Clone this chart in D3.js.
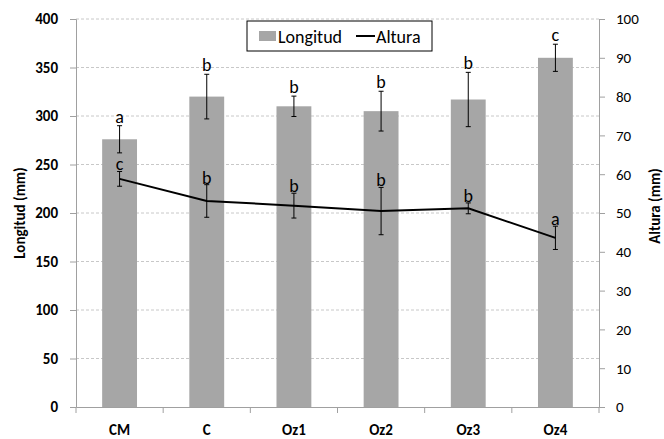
<!DOCTYPE html>
<html>
<head>
<meta charset="utf-8">
<script src="https://cdn.jsdelivr.net/npm/d3@7"></script>
<style>
  body { margin: 0; background: #fff; }
  #chart { width: 664px; height: 439px; }
  text { font-family: Carlito, Lato, "Liberation Sans", sans-serif; }
</style>
</head>
<body>
<div id="chart"></div>
<script>
const categories = ["CM", "C", "Oz1", "Oz2", "Oz3", "Oz4"];
const longitud = [276, 320, 310, 305, 317, 360];
const longitudErr = [14, 23, 10.5, 20.5, 28, 14];
const longitudLetters = ["a", "b", "b", "b", "b", "c"];
const altura = [58.8, 53.1, 51.9, 50.5, 51.2, 43.6];
const alturaErr = [1.9, 4.2, 3.2, 6.1, 1.4, 3];
const alturaLetters = ["c", "b", "b", "b", "b", "a"];
const leftTicks = [0, 50, 100, 150, 200, 250, 300, 350, 400];
const rightTicks = [0, 10, 20, 30, 40, 50, 60, 70, 80, 90, 100];

function draw() {
  const margin = { top: 19, right: 65, bottom: 32, left: 76 };
  const w = 664, h = 439;
  const innerW = w - margin.left - margin.right;
  const innerH = h - margin.top - margin.bottom;

  const svg = d3.select("#chart").append("svg")
    .attr("width", w).attr("height", h);

  const g = svg.append("g")
    .attr("transform", `translate(${margin.left},${margin.top})`);

  const x = d3.scaleBand().domain(categories).range([0, innerW]).paddingInner(0.6).paddingOuter(0.3);
  const xOuter = d3.scaleBand().domain(categories).range([0, innerW]);
  const yL = d3.scaleLinear().domain([0, 400]).range([innerH, 0]);
  const yR = d3.scaleLinear().domain([0, 100]).range([innerH, 0]);

  // grid
  g.append("g").selectAll("line")
    .data(leftTicks.filter(d => d > 0))
    .join("line")
    .attr("x1", 0).attr("x2", innerW)
    .attr("y1", d => yL(d)).attr("y2", d => yL(d))
    .attr("stroke", "#c8c8c8")
    .attr("stroke-dasharray", "3,2");

  // bars
  g.selectAll("rect.bar")
    .data(categories)
    .join("rect")
    .attr("class", "bar")
    .attr("x", d => x(d))
    .attr("y", (d, i) => yL(longitud[i]))
    .attr("width", x.bandwidth())
    .attr("height", (d, i) => innerH - yL(longitud[i]))
    .attr("fill", "#a6a6a6");

  const cx = d => xOuter(d) + xOuter.bandwidth() / 2;

  // error bars helper
  function errorBars(vals, errs, scale) {
    const eg = g.append("g").attr("stroke", "#000").attr("stroke-width", 1);
    categories.forEach((c, i) => {
      const y1 = scale(vals[i] + errs[i]), y2 = scale(vals[i] - errs[i]);
      eg.append("line").attr("x1", cx(c)).attr("x2", cx(c)).attr("y1", y1).attr("y2", y2);
      eg.append("line").attr("x1", cx(c) - 2.5).attr("x2", cx(c) + 2.5).attr("y1", y1).attr("y2", y1);
      eg.append("line").attr("x1", cx(c) - 2.5).attr("x2", cx(c) + 2.5).attr("y1", y2).attr("y2", y2);
    });
  }

  errorBars(longitud, longitudErr, yL);

  // line
  const line = d3.line()
    .x((d, i) => cx(categories[i]))
    .y(d => yR(d));
  g.append("path")
    .datum(altura)
    .attr("d", line)
    .attr("fill", "none")
    .attr("stroke", "#000")
    .attr("stroke-width", 2);

  errorBars(altura, alturaErr, yR);

  // letters
  g.selectAll("text.lL")
    .data(categories)
    .join("text")
    .attr("x", cx)
    .attr("y", (d, i) => yL(longitud[i] + longitudErr[i]) - 3)
    .attr("text-anchor", "middle")
    .style("font-size", "18px")
    .text((d, i) => longitudLetters[i]);

  g.selectAll("text.lA")
    .data(categories)
    .join("text")
    .attr("x", cx)
    .attr("y", (d, i) => yR(altura[i] + alturaErr[i]) - 1)
    .attr("text-anchor", "middle")
    .style("font-size", "18px")
    .text((d, i) => alturaLetters[i]);

  // axes
  const axL = g.append("g")
    .call(d3.axisLeft(yL).tickValues(leftTicks).tickSize(6).tickPadding(12));
  axL.selectAll("text").style("font-size", "15px").style("font-weight", "bold").attr("fill", "#000");

  const axR = g.append("g")
    .attr("transform", `translate(${innerW},0)`)
    .call(d3.axisRight(yR).tickValues(rightTicks).tickSize(6).tickPadding(11));
  axR.selectAll("text").style("font-size", "15px").attr("fill", "#000");

  const axB = g.append("g")
    .attr("transform", `translate(0,${innerH})`)
    .call(d3.axisBottom(xOuter).tickSize(0));
  axB.selectAll("text")
    .attr("y", 28).attr("dy", 0)
    .style("font-size", "15px").style("font-weight", "bold").attr("fill", "#000");
  axB.selectAll("line.bt")
    .data(d3.range(categories.length + 1))
    .join("line")
    .attr("class", "bt")
    .attr("x1", i => i * xOuter.step()).attr("x2", i => i * xOuter.step())
    .attr("y1", 0).attr("y2", 6)
    .attr("stroke", "#a0a0a0");

  [axL, axR, axB].forEach(a => {
    a.select(".domain").attr("stroke", "#a0a0a0");
    a.selectAll(".tick line").attr("stroke", "#a0a0a0");
  });

  // axis titles
  svg.append("text")
    .attr("transform", `translate(20,${margin.top + innerH / 2}) rotate(-90)`)
    .attr("text-anchor", "middle")
    .attr("dy", "0.35em")
    .style("font-size", "15px").style("font-weight", "bold")
    .text("Longitud (mm)");

  svg.append("text")
    .attr("transform", `translate(655,206) rotate(-90)`)
    .attr("text-anchor", "middle")
    .attr("dy", "0.35em")
    .style("font-size", "15px").style("font-weight", "bold")
    .text("Altura (mm)");

  // legend
  const lg = svg.append("g").attr("transform", "translate(247,21)");
  lg.append("rect").attr("width", 185).attr("height", 30)
    .attr("fill", "#fff").attr("stroke", "#000");
  lg.append("rect").attr("x", 12).attr("y", 10).attr("width", 17).attr("height", 10).attr("fill", "#a6a6a6");
  lg.append("text").attr("x", 31).attr("y", 22).style("font-size", "18px").text("Longitud");
  lg.append("line").attr("x1", 109).attr("x2", 128).attr("y1", 15).attr("y2", 15)
    .attr("stroke", "#000").attr("stroke-width", 2);
  lg.append("text").attr("x", 129).attr("y", 22).style("font-size", "18px").text("Altura");
}

draw();
</script>
</body>
</html>
